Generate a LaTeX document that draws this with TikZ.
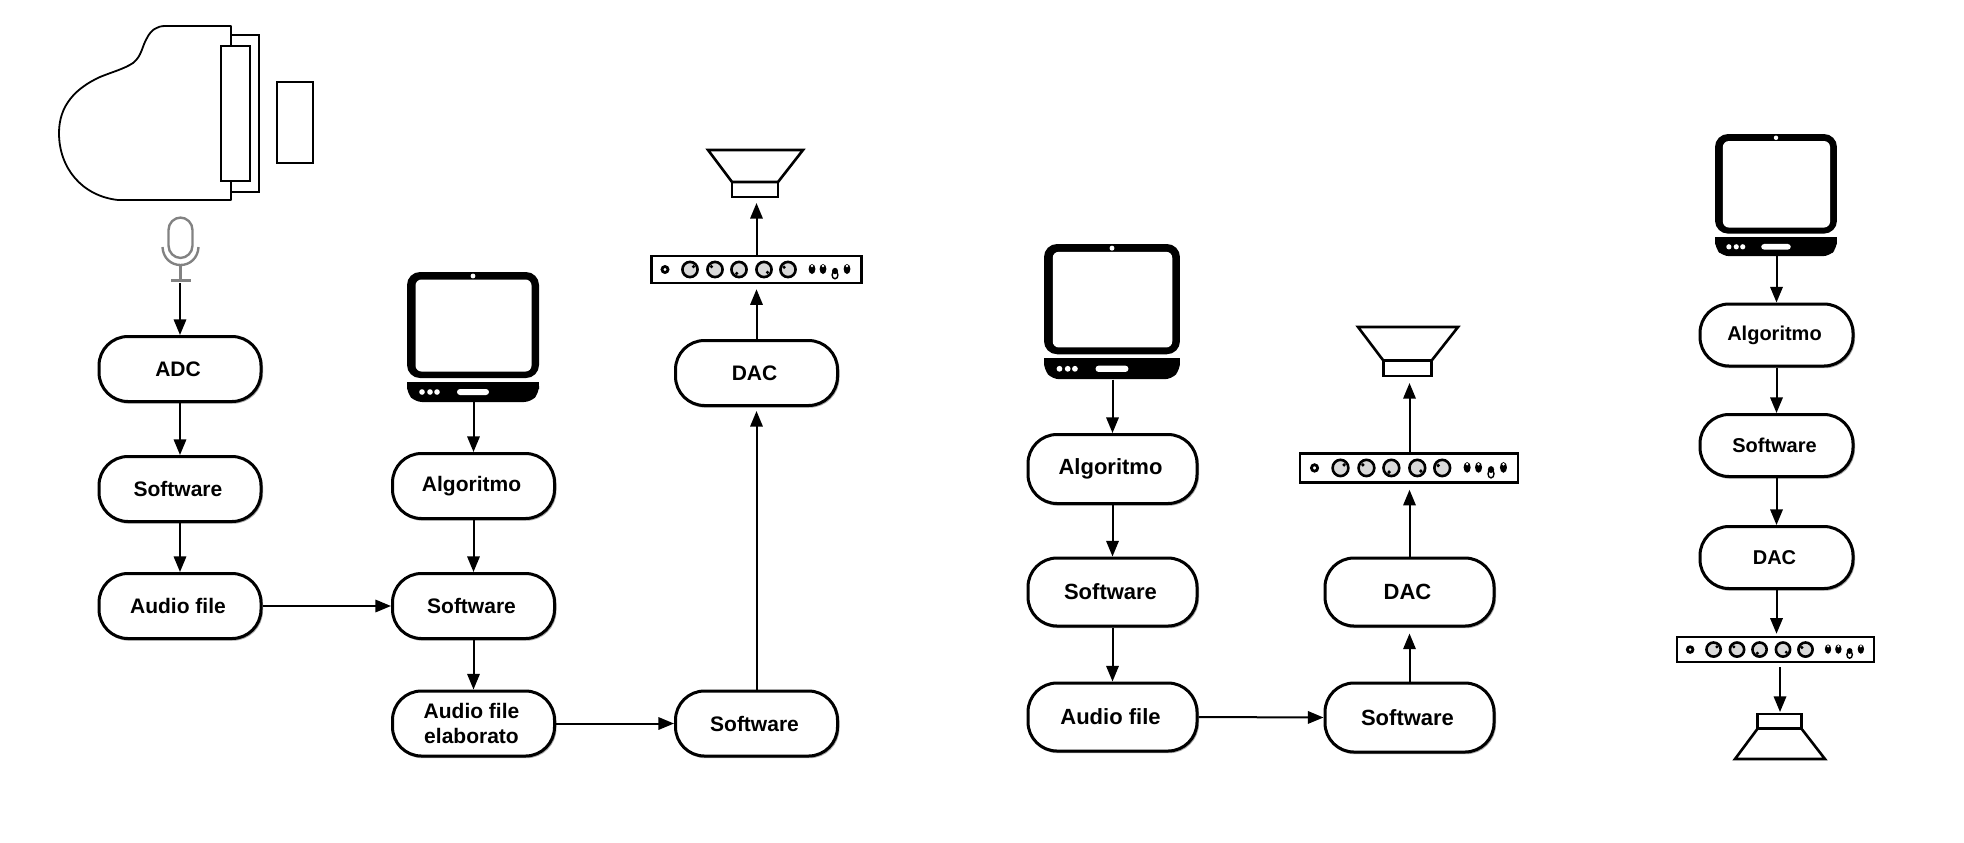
\documentclass[tikz,border=0pt]{standalone}
\usepackage{fontspec}
\setmainfont{Liberation Sans}
\usetikzlibrary{arrows.meta,shadows}
\tikzset{
  pill/.style={draw=black,line width=1.5pt,fill=white,rounded corners=14.5pt,inner sep=0pt,align=center,
    font=\bfseries\fontsize{#1}{12.5}\selectfont,execute at end node={\kern2pt},
    copy shadow={draw=black!35,fill=none,shadow xshift=.5pt,shadow yshift=-.6pt,line width=1pt}},
  pill/.default=10.5,
  arr/.style={line width=1pt,-{Triangle[length=7.8pt,width=6.2pt]}},
  ampbox/.style={draw=black,line width=1.25pt,fill=white,inner sep=0pt},
  icon/.style={draw=black,line width=1.3pt,line join=miter},
  thin icon/.style={draw=black,line width=.9pt},
  mic/.style={draw=black!40!gray!70,line width=1.2pt}
}
\newcommand{\LapIcon}[4]{%
  \begin{scope}[shift={(#1,#2)},xscale=#3,yscale=#4]
    \fill[black,rounded corners=6.5pt] (0,0) rectangle (132,106);
    \fill[white,rounded corners=3pt] (8.5,7.5) rectangle (124.5,99.5);
    \fill[white] (66,4) circle (2.4);
    \fill[black,rounded corners=3.5pt] (0,110) -- (132,110) -- (132,121) -- (124,130) -- (8,130) -- (0,121) -- cycle;
    \fill[black] (0,110) rectangle (132,115);
    \foreach \d in {15,23,30} \fill[white] (\d,120) circle (2.8);
    \fill[white,rounded corners=1.5pt] (50,117) rectangle (82,123);
  \end{scope}}
\newcommand{\AmpIcon}[4]{%
  \begin{scope}[shift={(#1,#2)},xscale=#3,yscale=#4]
    \draw[line width=1.4pt] (14,13.5) circle (3);
    \foreach \x/\a in {39/-40,64/-140,88/120,113/40,137/-150}{
      \draw[line width=1.3pt,fill=black!15] (\x,13.5) circle (7.6);
      \fill[black] (\x,13.5) ++(\a:4.5) circle (1.8);
    }
    \foreach \x/\y in {161/13,172/13,196/13}{
      \fill[black] (\x,\y) ellipse (3.4 and 5);
      \fill[white] (\x,\y-3) circle (1.3);
    }
    \draw[line width=.7pt] (184,19) ellipse (2.9 and 3.8);
    \fill[black] (184,15) ellipse (3 and 3.2);
  \end{scope}}
\newcommand{\SpkIcon}[4]{%
  \begin{scope}[shift={(#1,#2)},xscale=#3,yscale=#4]
    \draw[icon] (0,0) -- (95,0) -- (70,32) -- (24,32) -- cycle;
    \draw[icon] (24,32) rectangle (70,47);
  \end{scope}}
\begin{document}
\begin{tikzpicture}[x=.5pt,y=-.5pt]
\useasboundingbox (0,0) rectangle (1964,842);
% piano
\draw[thin icon,fill=white] (231,35) rectangle (259,192);
\draw[thin icon,fill=white,line join=round] (231,200) -- (118,200)
   .. controls (82,196) and (59,168) .. (59,133)
   .. controls (59,105) and (76,88) .. (100,77)
   .. controls (112,72) and (124,69) .. (133,63)
   .. controls (142,56) and (142,46) .. (147,38)
   .. controls (151,30) and (157,26) .. (165,26)
   -- (231,26) -- cycle;
\draw[thin icon,fill=white] (221,46) rectangle (250,181);
\draw[thin icon] (277,82) rectangle (313,163);
% mic
\draw[mic,rounded corners=6.2pt] (168.5,217.5) rectangle (192.5,258);
\draw[mic] (162.5,247) .. controls (163,258) and (171,265) .. (180.5,265)
   .. controls (190,265) and (198,258) .. (198.5,247);
\draw[mic] (180.5,265) -- (180.5,280) (171,280.5) -- (191,280.5);
\coordinate (micout) at (180,283);
% column 1
\node[pill,minimum width=81pt,minimum height=32.5pt] (adc) at (180,369) {ADC};
\node[pill,minimum width=81pt,minimum height=32.5pt] (swa) at (180,489) {Software};
\node[pill,minimum width=81pt,minimum height=32.5pt] (afa) at (180,606) {Audio file};
% column 2
\LapIcon{407}{272}{1}{1}
\coordinate (lapa) at (473.5,402);
\node[pill,minimum width=81pt,minimum height=32.5pt] (ala) at (473.5,486) {Algoritmo};
\node[pill,minimum width=81pt,minimum height=32.5pt] (swb) at (473.5,606) {Software};
\node[pill,minimum width=81pt,minimum height=32.5pt] (afb) at (473.5,723.5) {Audio file\\elaborato};
% column 3
\node[pill,minimum width=81pt,minimum height=32.5pt] (swc) at (756.5,723.5) {Software};
\node[pill,minimum width=81pt,minimum height=32.5pt] (daa) at (756.5,373) {DAC};
\node[ampbox,minimum width=105pt,minimum height=13.5pt] (ampa) at (756.5,269.5) {};
\AmpIcon{651}{256}{1}{1}
\SpkIcon{708}{150}{1}{1}
\coordinate (spka) at (756.5,197);
% column 4
\LapIcon{1044}{244}{1.03}{1.04}
\coordinate (lapb) at (1112.5,379.5);
\node[pill=11,minimum width=84.5pt,minimum height=34.5pt] (alb) at (1112.5,469) {Algoritmo};
\node[pill=11,minimum width=84.5pt,minimum height=34pt] (swd) at (1112.5,592) {Software};
\node[pill=11,minimum width=84.5pt,minimum height=34pt] (afc) at (1112.5,717) {Audio file};
% column 5
\node[pill=11,minimum width=84.5pt,minimum height=34.5pt] (swe) at (1409.5,717.5) {Software};
\node[pill=11,minimum width=84.5pt,minimum height=34pt] (dab) at (1409.5,592) {DAC};
\node[ampbox,minimum width=109pt,minimum height=14.5pt] (ampb) at (1409,468) {};
\AmpIcon{1300}{453.5}{1.038}{1.07}
\SpkIcon{1358}{327}{1.053}{1.045}
\coordinate (spkb) at (1408,376);
% column 6
\LapIcon{1715}{134}{.924}{.94}
\coordinate (lapc) at (1776.5,256);
\node[pill=10,minimum width=76.5pt,minimum height=31pt] (alc) at (1776.5,335) {Algoritmo};
\node[pill=10,minimum width=76.5pt,minimum height=31pt] (swf) at (1776.5,445.5) {Software};
\node[pill=10,minimum width=76.5pt,minimum height=31pt] (dac) at (1776.5,557.5) {DAC};
\node[ampbox,minimum width=98.5pt,minimum height=12.5pt] (ampc) at (1775.5,649.5) {};
\AmpIcon{1677}{637}{.938}{.93}
\SpkIcon{1735}{759}{.947}{-.955}
\coordinate (ampcout) at (1780,667);
\coordinate (spkc) at (1780,714);
% connectors
\draw[arr] (micout) -- (adc.north);
\draw[arr] (adc.south) -- (swa.north);
\draw[arr] (swa.south) -- (afa.north);
\draw[arr] (afa.east) -- (swb.west);
\draw[arr] (lapa) -- (ala.north);
\draw[arr] (ala.south) -- (swb.north);
\draw[arr] (swb.south) -- (afb.north);
\draw[arr] (afb.east) -- (swc.west);
\draw[arr,shorten >=2pt] (swc.north) -- (daa.south);
\draw[arr,shorten >=2.5pt] (daa.north) -- (daa.north |- ampa.south);
\draw[arr,shorten >=3pt] (daa.north |- ampa.north) -- (daa.north |- spka);
\draw[arr] (lapb) -- (alb.north);
\draw[arr] (alb.south) -- (swd.north);
\draw[arr] (swd.south) -- (afc.north);
\draw[arr] (afc.east) -- (swe.west);
\draw[arr,shorten >=3pt] (swe.north) -- (dab.south);
\draw[arr,shorten >=3pt] (dab.north) -- (dab.north |- ampb.south);
\draw[arr,shorten >=3.5pt] (dab.north |- ampb.north) -- (dab.north |- spkb);
\draw[arr] (lapc) -- (alc.north);
\draw[arr] (alc.south) -- (swf.north);
\draw[arr] (swf.south) -- (dac.north);
\draw[arr,shorten >=1pt] (dac.south) -- (dac.south |- ampc.north);
\draw[arr,shorten >=1pt] (ampcout) -- (spkc);
\end{tikzpicture}
\end{document}
